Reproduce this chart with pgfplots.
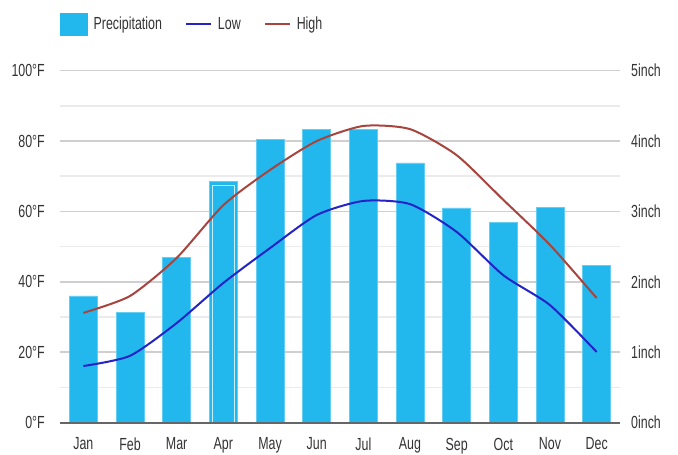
\documentclass[border=0pt]{standalone}
\usepackage{fontspec}
\setmainfont{Liberation Sans}[FakeStretch=0.71]
\usepackage{pgfplots}
\pgfplotsset{compat=1.18}
\definecolor{precip}{HTML}{22B8EE}
\definecolor{lowc}{HTML}{2323C6}
\definecolor{highc}{HTML}{A8443E}
\definecolor{majg}{HTML}{CFCFCF}
\definecolor{ming}{HTML}{EBEBEB}
\definecolor{txt}{HTML}{333333}
\definecolor{basec}{HTML}{666666}
\begin{document}
\begin{tikzpicture}[x=1pt,y=1pt]
\useasboundingbox (-60,-32.3) rectangle (618,422.7);
\pgfplotsset{common/.style={
  width=560pt, height=352pt, scale only axis,
  xmin=-0.5, xmax=11.5,
  tick style={draw=none},
  tick label style={font=\fontsize{17.5}{19}\selectfont, text=txt},
  /pgf/number format/assume math mode=true,
}}
% bars, right axis
\begin{axis}[common,
  at={(0,0)}, anchor=south west,
  ymin=0, ymax=5,
  axis y line*=right, axis x line=none,
  ytick={0,1,2,3,4,5},
  yticklabels={0inch,1inch,2inch,3inch,4inch,5inch},
  yticklabel style={anchor=west, inner sep=0pt, xshift=11pt},
  minor ytick={0.5,1.5,2.5,3.5,4.5},
  ymajorgrids, yminorgrids,
  major grid style={majg, line width=1.6pt},
  minor grid style={ming, line width=1.6pt},
  y axis line style={draw=none},
]
\addplot[ybar, bar width=28pt, bar shift=0pt, fill=precip, draw=precip!70!white, line width=0.8pt]
  coordinates {(0,1.80) (1,1.56) (2,2.35) (3,3.43) (4,4.02) (5,4.16) (6,4.16) (7,3.69) (8,3.05) (9,2.85) (10,3.06) (11,2.24)};
\addplot[ybar, bar width=22pt, bar shift=0pt, fill=none, draw=precip!25!white, line width=1.3pt]
  coordinates {(3,3.37)};
\end{axis}
% lines, left axis
\begin{axis}[common,
  at={(0,0)}, anchor=south west,
  ymin=0, ymax=100,
  axis y line*=left, axis x line*=bottom,
  y axis line style={draw=none},
  x axis line style={basec, line width=1.8pt, -},
  ytick={0,20,40,60,80,100},
  yticklabels={0°F,20°F,40°F,60°F,80°F,100°F},
  yticklabel style={anchor=east, inner sep=0pt, xshift=-15pt},
  xtick={0,...,11},
  xticklabels={Jan,Feb,Mar,Apr,May,Jun,Jul,Aug,Sep,Oct,Nov,Dec},
  xticklabel style={anchor=north, inner sep=0pt, yshift=-15pt},
  legend columns=3,
  legend style={draw=none, fill=none, at={(0,1)}, anchor=west, yshift=46.7pt, xshift=0pt,
    font=\fontsize{17.5}{19}\selectfont, text=txt, inner sep=0pt,
    /tikz/every odd column/.append style={column sep=6pt},
    /tikz/every even column/.append style={column sep=23pt},
    nodes={inner xsep=0pt, inner ysep=0pt}},
]
\addlegendimage{legend image code/.code={\fill[precip] (0pt,-11pt) rectangle (27pt,11pt);}}
\addlegendentry{Precipitation}
\addplot[lowc, line width=2pt, smooth, tension=0.4,
  legend image code/.code={\draw[lowc, line width=2pt] (0pt,0pt) -- (25pt,0pt);}]
  coordinates {(0,16.1) (1,19.0) (2,28.3) (3,39.7) (4,49.6) (5,59.0) (6,63.0) (7,62.1) (8,54.2) (9,41.9) (10,33.4) (11,20.1)};
\addlegendentry{Low}
\addplot[highc, line width=2pt, smooth, tension=0.4,
  legend image code/.code={\draw[highc, line width=2pt] (0pt,0pt) -- (25pt,0pt);}]
  coordinates {(0,31.2) (1,36.0) (2,46.8) (3,61.8) (4,71.8) (5,80.0) (6,84.3) (7,83.4) (8,76.0) (9,63.3) (10,50.5) (11,35.4)};
\addlegendentry{High}
\end{axis}
\end{tikzpicture}
\end{document}
